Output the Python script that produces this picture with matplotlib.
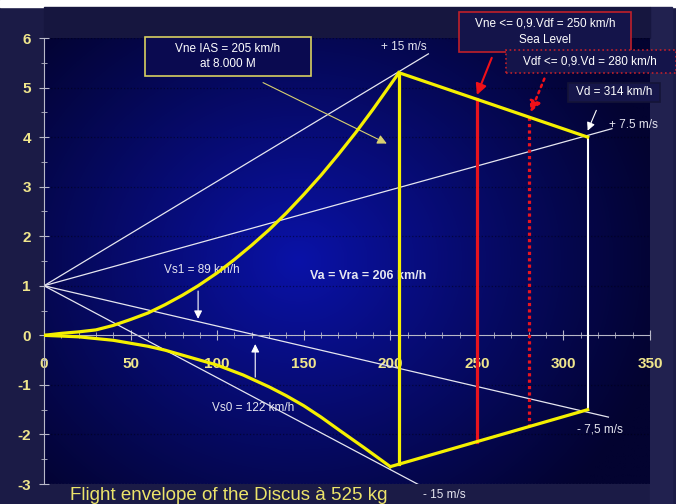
import numpy as np
import matplotlib.pyplot as plt
from matplotlib.patches import Rectangle

plt.rcParams['font.family'] = ['Liberation Sans', 'DejaVu Sans']
plt.rcParams['axes.unicode_minus'] = False

# stall limits (km/h -> load factor n)
stall_pos_v = [0, 10, 20, 30, 40, 50, 60, 70, 80, 89, 100, 110, 120, 130, 140, 150, 160, 170, 180, 190, 205]
stall_pos_n = [0.0, 0.04, 0.07, 0.11, 0.2, 0.32, 0.45, 0.62, 0.81, 1.0, 1.26, 1.53, 1.82, 2.13, 2.47, 2.84, 3.23, 3.65, 4.09, 4.56, 5.3]
stall_neg_v = [0, 20, 40, 60, 70, 80, 100, 115, 130, 140, 150, 160, 170, 185, 200]
stall_neg_n = [0.0, -0.03, -0.1, -0.22, -0.3, -0.4, -0.6, -0.8, -1.04, -1.22, -1.42, -1.65, -1.9, -2.27, -2.65]

# gust limit corners of the envelope
top_edge_v = [205, 314]
top_edge_n = [5.3, 4.0]
bot_edge_v = [200, 314]
bot_edge_n = [-2.65, -1.5]

# gust lines from (0, 1)
gust_labels = ['+ 15 m/s', '+ 7.5 m/s', '- 7,5 m/s', '- 15 m/s']
gust_v_end = [222, 328, 326, 220]
gust_n_end = [5.68, 4.17, -1.65, -3.08]

# reference speeds (km/h)
va = 205
vne = 250
vdf = 280
vd = 314
vs1 = 89
vs0 = 122

W, H = 676, 504
fig = plt.figure(figsize=(W / 100, H / 100), dpi=100, facecolor='#1b1b46')
fig.add_artist(Rectangle((0, 1 - 7 / H), 1, 7 / H, color='white', transform=fig.transFigure, zorder=-2))
fig.add_artist(Rectangle((650 / W, 0), 22 / W, (H - 7) / H, color='#21214f', transform=fig.transFigure, zorder=-2))
fig.add_artist(Rectangle((44 / W, 1 - 38 / H), 606 / W, 31 / H, color='#16163f', transform=fig.transFigure, zorder=-2))

ax = fig.add_axes([44 / W, 1 - 484 / H, 606 / W, 446 / H])
ax.set_xlim(0, 350)
ax.set_ylim(-3, 6)

# blue radial background
gx, gy = np.meshgrid(np.linspace(0, 1, 400), np.linspace(0, 1, 400))
d = np.sqrt(((gx - 0.42) / 0.62) ** 2 + ((gy - 0.5) / 0.75) ** 2)
t = np.clip(1 - d, 0, 1) ** 1.1
dark = np.array([3, 3, 48]) / 255
bright = np.array([10, 18, 168]) / 255
img = dark + (bright - dark) * t[..., None]
ax.imshow(img, extent=[0, 350, -3, 6], origin='lower', aspect='auto', zorder=0)

ax.set_axisbelow(True)
ax.grid(axis='y', color='#000010', linestyle=':', linewidth=0.9, alpha=0.5)
ax.axhline(-3, color='#4a4a78', linestyle=':', linewidth=0.9)

for s in ['top', 'right']:
    ax.spines[s].set_visible(False)
ax.spines['bottom'].set_position(('data', 0))
ax.spines['bottom'].set_color('#b8b8c8')
ax.spines['left'].set_color('#b8b8c8')
ax.set_xticks(np.arange(0, 351, 50))
ax.set_xticks(np.arange(0, 351, 10), minor=True)
ax.set_yticks(np.arange(-3, 7, 1))
ax.set_yticks(np.arange(-3, 6.1, 0.5), minor=True)
ax.tick_params(which='both', colors='#b8b8c8', direction='inout')
ax.tick_params(which='major', length=7)
ax.tick_params(which='minor', length=5)
ax.tick_params(axis='x', which='major', pad=12, labelsize=11, labelcolor='#f0e68c')
ax.tick_params(axis='y', which='major', pad=6, labelsize=11, labelcolor='#f0e68c')
for lab in ax.get_xticklabels() + ax.get_yticklabels():
    lab.set_fontweight('bold')

# gust lines
for ve, ne in zip(gust_v_end, gust_n_end):
    ax.plot([0, ve], [1, ne], color='#e6e6f0', lw=0.9, zorder=2)

yel = '#f5f000'
ax.plot(stall_pos_v, stall_pos_n, color=yel, lw=2.3, zorder=4)
ax.plot(stall_neg_v, stall_neg_n, color=yel, lw=2.3, zorder=4)
ax.plot(top_edge_v, top_edge_n, color=yel, lw=2.3, zorder=4)
ax.plot(bot_edge_v, bot_edge_n, color=yel, lw=2.3, zorder=4)
ax.plot([va, va], [np.interp(va, bot_edge_v, bot_edge_n), np.interp(va, top_edge_v, top_edge_n)],
        color=yel, lw=2.3, zorder=4)

ax.plot([vne, vne], [np.interp(vne, bot_edge_v, bot_edge_n), np.interp(vne, top_edge_v, top_edge_n)],
        color='#e8141e', lw=2.3, zorder=3)
ax.plot([vdf, vdf], [np.interp(vdf, bot_edge_v, bot_edge_n), np.interp(vdf, top_edge_v, top_edge_n)],
        color='#e8141e', lw=2.3, linestyle=(0, (1, 1)), zorder=3)
ax.plot([vd, vd], [bot_edge_n[1], top_edge_n[1]], color='white', lw=1.5, zorder=3)

# gust labels
txt = dict(color='#e6e6f0', fontsize=8.5, ha='center', va='center', clip_on=False)
ax.text(208, 5.81, gust_labels[0], **txt)
ax.text(340.6, 4.25, gust_labels[1], **txt)
ax.text(321, -1.9, gust_labels[2], **txt)
ax.text(231, -3.23, gust_labels[3], **txt)

# stall speed markers
n_vs1 = 1 + (gust_n_end[2] - 1) / gust_v_end[2] * vs1
ax.annotate('', xy=(vs1, n_vs1), xytext=(vs1, 0.95),
            arrowprops=dict(arrowstyle='-|>', color='white', lw=0.8, mutation_scale=12))
ax.text(vs1 + 2, 1.31, f'Vs1 = {vs1} km/h', **txt)
ax.annotate('', xy=(vs0, -0.12), xytext=(vs0, -0.9),
            arrowprops=dict(arrowstyle='-|>', color='white', lw=0.8, mutation_scale=12))
ax.text(vs0 - 1.5, -1.47, f'Vs0 = {vs0} km/h', **txt)
ax.text(187, 1.19, 'Va = Vra = 206 km/h', color='#e6e6f0', fontsize=9, fontweight='bold',
        ha='center', va='center')

# callout arrows
ax.annotate('', xy=(198, 3.87), xytext=(126.5, 5.1),
            arrowprops=dict(arrowstyle='-|>', color='#d8d070', lw=0.8, mutation_scale=14,
                            shrinkA=0, shrinkB=0))
ax.annotate('', xy=(vne, 4.85), xytext=(258.6, 5.6), annotation_clip=False,
            arrowprops=dict(arrowstyle='-|>', color='#f01018', lw=1.5, mutation_scale=16,
                            shrinkA=0, shrinkB=0))
ax.annotate('', xy=(vdf + 1, 4.5), xytext=(vdf + 9, 5.18), annotation_clip=False,
            arrowprops=dict(arrowstyle='-|>', color='#f01018', lw=1.8, linestyle=':',
                            mutation_scale=16, shrinkA=0, shrinkB=0))
ax.annotate('', xy=(vd, 4.13), xytext=(319, 4.54),
            arrowprops=dict(arrowstyle='-|>', color='white', lw=0.8, mutation_scale=12,
                            shrinkA=0, shrinkB=0))


def box(x0, y0, x1, y1, edge, ls='-', face='#14144a'):
    fig.add_artist(Rectangle((x0 / W, 1 - y1 / H), (x1 - x0) / W, (y1 - y0) / H,
                             transform=fig.transFigure, facecolor=face, edgecolor=edge,
                             linestyle=ls, lw=1.2, zorder=5))


box(145, 37, 311, 76, '#d8d060', face='#0a0a50')
fig.text(228 / W, 1 - 49 / H, 'Vne IAS = 205 km/h', color='white', fontsize=8.5, ha='center', va='center', zorder=6)
fig.text(228 / W, 1 - 64 / H, 'at 8.000 M', color='white', fontsize=8.5, ha='center', va='center', zorder=6)

box(459, 12, 631, 52, '#c0202a')
fig.text(545 / W, 1 - 24 / H, 'Vne <= 0,9.Vdf = 250 km/h', color='white', fontsize=8.5, ha='center', va='center', zorder=6)
fig.text(545 / W, 1 - 40 / H, 'Sea Level', color='white', fontsize=8.5, ha='center', va='center', zorder=6)

box(506, 50, 676, 73, '#c0202a', ls=':')
fig.text(590 / W, 1 - 62 / H, 'Vdf <= 0,9.Vd = 280 km/h', color='white', fontsize=8.5, ha='center', va='center', zorder=6)

box(568, 83, 660, 102, '#141438', face='#16164a')
fig.text(614 / W, 1 - 92 / H, 'Vd = 314 km/h', color='white', fontsize=8.5, ha='center', va='center', zorder=6)

fig.text(70 / W, 1 - 500 / H, 'Flight envelope of the Discus à 525 kg', color='#ece46a',
         fontsize=13.5, ha='left', va='baseline')

fig.savefig('out.png', dpi=100, facecolor=fig.get_facecolor())
